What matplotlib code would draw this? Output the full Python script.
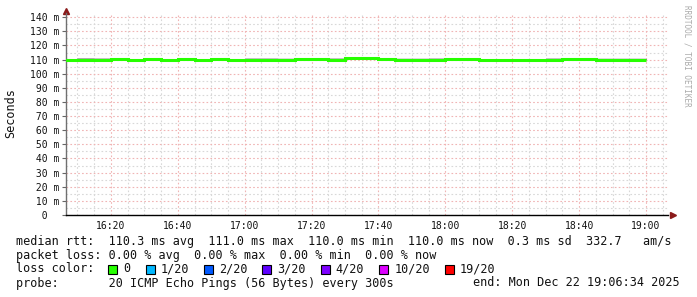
import datetime as dt
import numpy as np
import matplotlib
matplotlib.use('Agg')
import matplotlib.pyplot as plt
import matplotlib.dates as mdates
from matplotlib.patches import Rectangle

# time window of the graph and the 5 minute steps
start = dt.datetime(2025, 12, 22, 16, 6, 34)
end = dt.datetime(2025, 12, 22, 19, 6, 34)
first_step = dt.datetime(2025, 12, 22, 16, 5, 0)
step_min = 5

# median rtt per step (ms), 16:05 ... 18:55
median_ms = [110.0, 110.0, 110.0, 110.6, 110.0, 110.6, 110.0, 110.6, 110.0, 110.6,
             110.0, 110.0, 110.0, 110.0, 110.6, 110.6, 110.0, 111.0, 111.0, 110.5,
             110.0, 110.0, 110.0, 110.2, 110.5, 110.0, 110.0, 110.0, 110.0, 110.0,
             110.2, 110.5, 110.0, 110.0, 110.0]
# upper edge of the smoke (ms)
smoke_hi_ms = [110.5, 110.9, 110.9, 110.8, 110.3, 110.8, 110.3, 110.8, 110.3, 110.8,
               110.6, 111.1, 111.1, 110.7, 110.8, 110.8, 110.9, 111.2, 111.2, 110.7,
               110.6, 110.6, 111.0, 110.4, 110.7, 110.6, 110.6, 110.6, 110.6, 111.0,
               110.6, 110.7, 110.6, 110.6, 110.6]
# steps where the dense (dark) part of the smoke shows
dark_band = [0, 1, 0, 0, 0, 0, 0, 0, 0, 0,
             0, 0, 0, 1, 0, 0, 0, 0, 0, 0,
             1, 1, 0, 0, 0, 0, 0, 0, 0, 0,
             0, 0, 1, 1, 1]

y_ticks = list(range(0, 141, 10))

stats_rtt = "median rtt:  110.3 ms avg  111.0 ms max  110.0 ms min  110.0 ms now  0.3 ms sd  332.7   am/s"
stats_loss = "packet loss: 0.00 % avg  0.00 % max  0.00 % min  0.00 % now"
probe_text = "probe:       20 ICMP Echo Pings (56 Bytes) every 300s"
end_text = "end: Mon Dec 22 19:06:34 2025"
loss_labels = ['0', '1/20', '2/20', '3/20', '4/20', '10/20', '19/20']
loss_colors = ['#26ff00', '#00b8ff', '#0059ff', '#5e00ff', '#7e00ff', '#dd00ff', '#ff0000']

W, H = 697, 297
MONO = 'DejaVu Sans Mono'


def fx(x):
    return x / W


def fy(y):
    return 1 - y / H


def main():
    fig = plt.figure(figsize=(W / 100, H / 100), dpi=100)
    ax = fig.add_axes([fx(66), fy(215), (668 - 66) / W, (215 - 13) / H])

    edges = mdates.date2num([first_step + dt.timedelta(minutes=step_min * i)
                             for i in range(len(median_ms) + 1)])
    med = np.array(median_ms)
    hi = np.array(smoke_hi_ms)

    # smoke
    ax.stairs(hi, edges, baseline=med - 0.3, fill=True, color='#c4c4c4', lw=0, zorder=2)
    for i, d in enumerate(dark_band):
        if d:
            ax.hlines(med[i] + 0.6, edges[i], edges[i + 1], color='#555555', lw=1.0, zorder=3)
    # median line
    ax.stairs(med, edges, baseline=None, color='#26ff00', lw=2.2, zorder=4)

    ax.set_xlim(mdates.date2num(start), mdates.date2num(end))
    ax.set_ylim(0, 143)

    ax.xaxis.set_major_locator(mdates.MinuteLocator(byminute=[0, 20, 40]))
    ax.xaxis.set_minor_locator(mdates.MinuteLocator(byminute=range(0, 60, 5)))
    ax.xaxis.set_major_formatter(mdates.DateFormatter('%H:%M'))
    ax.set_yticks(y_ticks)
    ax.set_yticks(range(5, 141, 10), minor=True)
    ylabels = ['  0' if v == 0 else f'{v:3d} m' for v in y_ticks]
    ax.set_yticklabels(ylabels, ha='left', family=MONO, fontsize=7, color='#111111')
    for lab in ax.get_xticklabels():
        lab.set_family(MONO)
    ax.tick_params(axis='x', which='both', length=0, pad=4, labelsize=7, labelcolor='#111111')
    ax.tick_params(axis='y', which='major', length=3, width=0.8, color='#666666',
                   direction='out', pad=23)
    ax.tick_params(axis='y', which='minor', length=0)

    ax.grid(which='minor', color='#d8d8d8', ls=(0, (1.5, 2)), lw=0.8, zorder=1)
    ax.grid(which='major', color='#f0b4b4', ls=(0, (1.5, 2)), lw=0.8, zorder=1)

    for s in ['top', 'right']:
        ax.spines[s].set_visible(False)
    ax.spines['left'].set_color('#707070')
    ax.spines['left'].set_linewidth(1.0)
    ax.spines['bottom'].set_color('#000000')
    ax.spines['bottom'].set_linewidth(1.0)
    ax.plot([1.008], [0], marker='>', ms=4, color='#8b1a1a', transform=ax.transAxes, clip_on=False)
    ax.plot([0], [1.01], marker='^', ms=4, color='#8b1a1a', transform=ax.transAxes, clip_on=False)

    fig.text(fx(11), fy(113), 'Seconds', rotation=90, ha='center', va='center',
             family=MONO, fontsize=8.5, color='#111111')
    fig.text(fx(687), fy(5), 'RRDTOOL / TOBI OETIKER', rotation=270, ha='center', va='top',
             family=MONO, fontsize=5.5, color='#aaaaaa')

    # legend / statistics block
    fs = 8.5
    cw = 0.6021 * fs * 100 / 72
    fig.text(fx(16), fy(241), stats_rtt, ha='left', va='center', family=MONO, fontsize=fs, color='#111111')
    fig.text(fx(16), fy(255), stats_loss, ha='left', va='center', family=MONO, fontsize=fs, color='#111111')
    fig.text(fx(16), fy(269), 'loss color:', ha='left', va='center', family=MONO, fontsize=fs, color='#111111')
    x = 16 + 13 * cw
    for lab, col in zip(loss_labels, loss_colors):
        fig.add_artist(Rectangle((fx(x), fy(273.5)), 9 / W, 9 / H, transform=fig.transFigure,
                                 facecolor=col, edgecolor='black', lw=0.8))
        fig.text(fx(x + 15), fy(269), lab, ha='left', va='center', family=MONO, fontsize=fs, color='#111111')
        x = x + 15 + len(lab) * cw + 15
    fig.text(fx(16), fy(283), probe_text, ha='left', va='center', family=MONO, fontsize=fs, color='#111111')
    fig.text(fx(680), fy(283), end_text, ha='right', va='center', family=MONO, fontsize=fs, color='#111111')

    fig.savefig('out.png', dpi=100)


if __name__ == "__main__":
    main()
